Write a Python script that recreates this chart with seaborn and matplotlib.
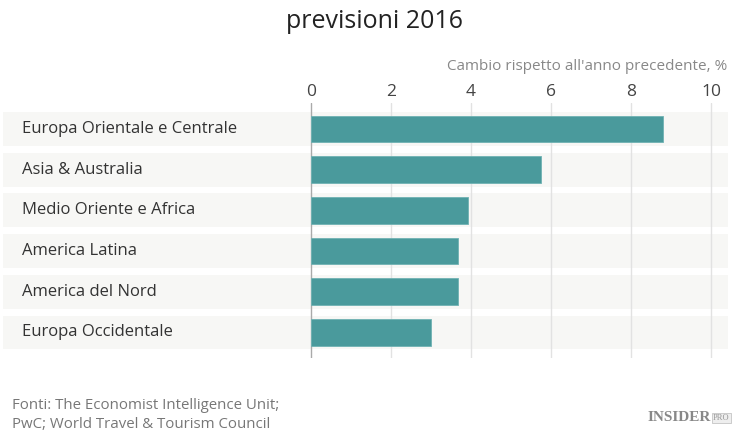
import matplotlib
matplotlib.use('Agg')
import matplotlib.pyplot as plt
import seaborn as sns
import pandas as pd

regioni = ['Europa Orientale e Centrale', 'Asia & Australia', 'Medio Oriente e Africa',
           'America Latina', 'America del Nord', 'Europa Occidentale']
valori = [8.8, 5.75, 3.92, 3.67, 3.67, 3.0]
tick_x = [0, 2, 4, 6, 8, 10]

df = pd.DataFrame({'regione': regioni, 'valore': valori})

sns.set_style('white')
plt.rcParams['font.family'] = ['Open Sans', 'DejaVu Sans']

fig = plt.figure(figsize=(7.5, 4.4), dpi=100)
ax = fig.add_axes([3 / 750, 1 - 358 / 440, 725 / 750, 255 / 440])

# bande di sfondo
for i in range(len(regioni)):
    ax.axhspan(i - 0.415, i + 0.415, color='#f7f7f5', zorder=0, lw=0)

for t in tick_x:
    ax.axvline(t, color='#e2e2e2' if t else '#aaaaaa', lw=1, zorder=1)

sns.barplot(data=df, x='valore', y='regione', color='#4a9a9c', width=0.66,
            saturation=1, ax=ax, zorder=2, edgecolor='#6fb2b3', linewidth=0.6)

ax.set_xlim(-7.7, 10.425)
ax.set_ylim(5.63, -0.64)
ax.set_xticks([])
ax.set_yticks([])
ax.set_xlabel('')
ax.set_ylabel('')
for s in ax.spines.values():
    s.set_visible(False)

for i, r in enumerate(regioni):
    ax.text(-7.22, i, r, va='center', ha='left', fontsize=12, color='#333333')

for t in tick_x:
    fig.text((311 + 40 * t) / 750, 1 - 96 / 440, str(t), ha='center', va='baseline',
             fontsize=12.5, color='#444444')

fig.text(727 / 750, 1 - 70 / 440, "Cambio rispetto all'anno precedente, %", ha='right',
         va='baseline', fontsize=11, color='#888888')
fig.text(0.5, 1 - 28 / 440, 'previsioni 2016', ha='center', va='baseline',
         fontsize=18, color='#222222')

fig.text(12 / 750, 1 - 409 / 440, 'Fonti: The Economist Intelligence Unit;', ha='left',
         va='baseline', fontsize=10.8, color='#777777')
fig.text(12 / 750, 1 - 428 / 440, 'PwC; World Travel & Tourism Council', ha='left',
         va='baseline', fontsize=10.8, color='#777777')
fig.text(711 / 750, 1 - 421 / 440, 'INSIDER', ha='right', va='baseline', fontsize=11,
         color='#888888', family=['Liberation Serif'], weight='bold')
fig.text(713 / 750, 1 - 420 / 440, 'PRO', ha='left', va='baseline', fontsize=6,
         color='#999999', family=['Liberation Serif'],
         bbox=dict(boxstyle='square,pad=0.15', fc='#eeeeee', ec='#bbbbbb', lw=0.5))

fig.savefig('out.png', dpi=100)
